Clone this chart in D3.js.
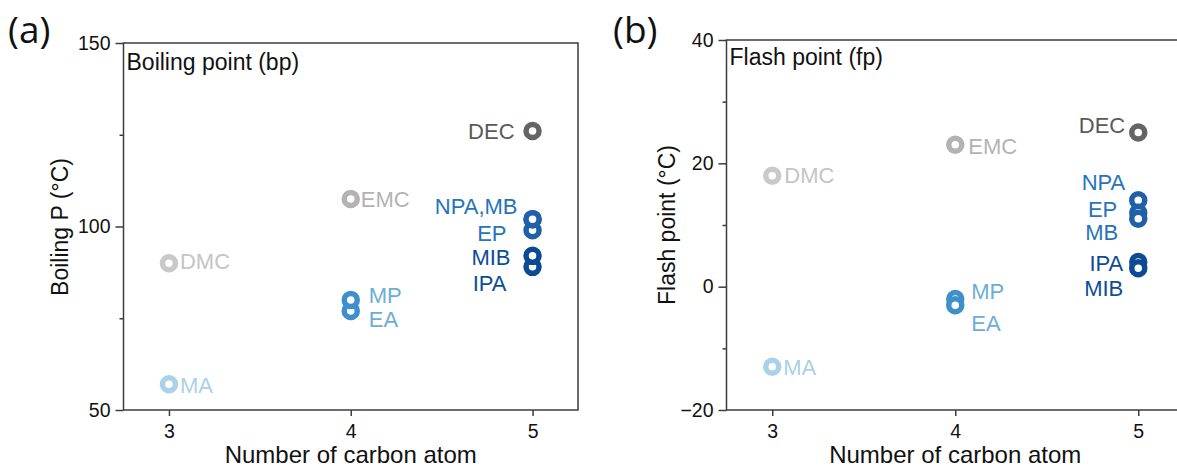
<!DOCTYPE html>
<html>
<head>
<meta charset="utf-8">
<script src="https://cdn.jsdelivr.net/npm/d3@7"></script>
<style>
  html, body { margin: 0; padding: 0; background: #fff; }
  svg { display: block; }
  text { font-family: "Liberation Sans", Arial, sans-serif; }
</style>
</head>
<body>
<script>
// ---------------- data ----------------
const compounds     = ["MA", "DMC", "MP", "EA", "EMC", "NPA", "MB", "EP", "MIB", "IPA", "DEC"];
const carbonAtoms   = [3, 3, 4, 4, 4, 5, 5, 5, 5, 5, 5];
const boilingPoints = [57, 90, 80, 77, 107.5, 102, 102, 99, 92, 89, 126];
const flashPoints   = [-13, 18, -2, -3, 23, 14, 11, 12, 3, 4, 25];

const labelsA = ["MA", "DMC", "MP", "EA", "EMC", "NPA,MB", "", "EP", "MIB", "IPA", "DEC"];
const labelsB = ["MA", "DMC", "MP", "EA", "EMC", "NPA", "MB", "EP", "MIB", "IPA", "DEC"];

const xTicks      = [3, 4, 5];
const bpTicks     = [50, 100, 150];
const bpMinor     = [75, 125];
const fpTicks     = [-20, 0, 20, 40];
const fpMinor     = [-10, 10, 30];

// ---------------- styles ----------------
const circleColors = ["#a9d1e7", "#c9c9c9", "#3f8fcb", "#3f8fcb", "#b3b3b3",
                      "#1f60a8", "#1f60a8", "#1f60a8", "#0c4a94", "#0c4a94", "#646464"];
const labelColors  = ["#a9d1e7", "#c4c4c4", "#6baed6", "#6baed6", "#b3b3b3",
                      "#2674bb", "#2674bb", "#2674bb", "#0d4c97", "#0d4c97", "#5a5a5a"];
// label offsets [dx, dy, anchor] in px relative to the marker
const labelPosA = [[11, 1, "start"], [11, -2, "start"], [18, -5, "start"], [18, 8, "start"],
                   [10, 0, "start"], [-15, -13, "end"], [0, 0, "end"], [-26, 3, "end"],
                   [-22, 1, "end"], [-26, 16, "end"], [-18, 0, "end"]];
const labelPosB = [[11, 0, "start"], [12, -1, "start"], [16, -8, "start"], [16, 18, "start"],
                   [13, 1, "start"], [-13, -18, "end"], [-20, 13, "end"], [-21, -4, "end"],
                   [-15, 20, "end"], [-15, 1, "end"], [-13, -7, "end"]];

const W = 1177, H = 467;
const svg = d3.select("body").append("svg").attr("width", W).attr("height", H);

function panel(cfg) {
  const x = d3.scaleLinear().domain([2.75, 5.25]).range([cfg.left, cfg.right]);
  const y = d3.scaleLinear().domain(cfg.yDomain).range([cfg.bottom, cfg.top]);
  const g = svg.append("g");

  // frame
  g.append("rect")
    .attr("x", cfg.left).attr("y", cfg.top)
    .attr("width", cfg.right - cfg.left).attr("height", cfg.bottom - cfg.top)
    .attr("fill", "none").attr("stroke", "#3c3c3c").attr("stroke-width", 1.5);

  // y axis major
  const ya = g.append("g").attr("transform", `translate(${cfg.left},0)`)
    .call(d3.axisLeft(y).tickValues(cfg.yTicks).tickSize(8).tickPadding(5).tickFormat(d3.format("d")));
  ya.select(".domain").remove();
  ya.selectAll("line").attr("stroke", "#3c3c3c").attr("stroke-width", 1.5);
  ya.selectAll("text").attr("font-size", 19.5).attr("fill", "#111")
    .style("font-family", '"Liberation Sans", Arial, sans-serif');
  // y axis minor
  const ym = g.append("g").attr("transform", `translate(${cfg.left},0)`)
    .call(d3.axisLeft(y).tickValues(cfg.yMinor).tickSize(4).tickFormat(""));
  ym.select(".domain").remove();
  ym.selectAll("line").attr("stroke", "#3c3c3c").attr("stroke-width", 1.5);

  // x axis
  const xa = g.append("g").attr("transform", `translate(0,${cfg.bottom})`)
    .call(d3.axisBottom(x).tickValues(xTicks).tickSize(6).tickPadding(8).tickFormat(d3.format("d")));
  xa.select(".domain").remove();
  xa.selectAll("line").attr("stroke", "#3c3c3c").attr("stroke-width", 1.5);
  xa.selectAll("text").attr("font-size", 19.5).attr("fill", "#111")
    .style("font-family", '"Liberation Sans", Arial, sans-serif');

  // axis titles
  g.append("text")
    .attr("x", (x(3) + x(5)) / 2).attr("y", 463)
    .attr("text-anchor", "middle").attr("font-size", 24).attr("fill", "#111")
    .text("Number of carbon atom");
  g.append("text")
    .attr("transform", `translate(${cfg.yTitleX},${cfg.yTitleY}) rotate(-90)`)
    .attr("text-anchor", "middle").attr("font-size", 23).attr("fill", "#111")
    .text(cfg.yTitle);

  // panel title inside
  g.append("text")
    .attr("x", cfg.left + 3).attr("y", cfg.titleY)
    .attr("font-size", 23).attr("fill", "#111")
    .text(cfg.title);

  // panel letter
  g.append("text")
    .attr("x", cfg.letterX).attr("y", 43)
    .attr("font-size", 37).attr("fill", "#111")
    .style("font-family", '"Open Sans", "Noto Sans", sans-serif')
    .text(cfg.letter);

  // points, ordered for overlap
  const idx = d3.range(compounds.length).sort(cfg.order);
  g.selectAll("circle.pt").data(idx).join("circle")
    .attr("class", "pt")
    .attr("cx", i => x(carbonAtoms[i]))
    .attr("cy", i => y(cfg.values[i]))
    .attr("r", 6.5)
    .attr("fill", "#fff")
    .attr("stroke", i => circleColors[i])
    .attr("stroke-width", 5.5);

  g.selectAll("text.lbl").data(idx.filter(i => cfg.labels[i] !== "")).join("text")
    .attr("class", "lbl")
    .attr("x", i => x(carbonAtoms[i]) + cfg.pos[i][0])
    .attr("y", i => y(cfg.values[i]) + cfg.pos[i][1])
    .attr("dy", "0.36em")
    .attr("text-anchor", i => cfg.pos[i][2])
    .attr("font-size", 22)
    .attr("fill", i => labelColors[i])
    .text(i => cfg.labels[i]);
}

panel({
  left: 123.5, right: 578, top: 43, bottom: 410,
  yDomain: [50, 150], yTicks: bpTicks, yMinor: bpMinor,
  values: boilingPoints, labels: labelsA, pos: labelPosA,
  order: (a, b) => boilingPoints[a] - boilingPoints[b],
  yTitle: "Boiling P (°C)", yTitleX: 68, yTitleY: 227,
  title: "Boiling point (bp)", titleY: 70,
  letter: "(a)", letterX: 8
});

panel({
  left: 726.5, right: 1184, top: 40, bottom: 410,
  yDomain: [-20, 40], yTicks: fpTicks, yMinor: fpMinor,
  values: flashPoints, labels: labelsB, pos: labelPosB,
  order: (a, b) => flashPoints[b] - flashPoints[a],
  yTitle: "Flash point (°C)", yTitleX: 675, yTitleY: 225,
  title: "Flash point (fp)", titleY: 65,
  letter: "(b)", letterX: 613
});
</script>
</body>
</html>
